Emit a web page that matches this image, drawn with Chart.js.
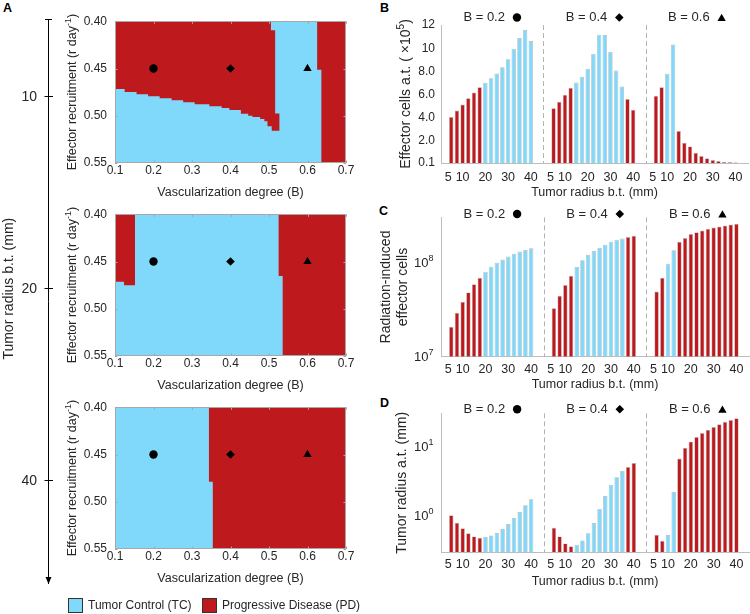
<!DOCTYPE html>
<html>
<head>
<meta charset="utf-8">
<script src="https://cdn.jsdelivr.net/npm/chart.js"></script>
<style>
body { margin: 0; width: 750px; height: 614px; position: relative; overflow: hidden; background: #fff;
       font-family: 'Liberation Sans', Arial, sans-serif; color: #262626; }
canvas { position: absolute; }
.lbl { position: absolute; font-weight: bold; font-size: 12.5px; line-height: 12px; color: #000; }
.box { position: absolute; top: 598px; width: 13px; height: 13px; border: 1px solid #333; }
.key { position: absolute; top: 598px; font-size: 12px; line-height: 15px; white-space: nowrap; }
</style>
</head>
<body>
<div class="lbl" style="left:3px;top:2px">A</div>
<div class="lbl" style="left:380px;top:1.5px">B</div>
<div class="lbl" style="left:379px;top:204.5px">C</div>
<div class="lbl" style="left:380px;top:396.5px">D</div>

<canvas id="axisA" width="60" height="614" style="left:0;top:0"></canvas>
<canvas id="map10" width="300" height="200" style="left:60px;top:0"></canvas>
<canvas id="map20" width="300" height="200" style="left:60px;top:193px"></canvas>
<canvas id="map40" width="300" height="200" style="left:60px;top:386px"></canvas>
<canvas id="chartB" width="370" height="200" style="left:380px;top:0"></canvas>
<canvas id="chartC" width="370" height="198" style="left:380px;top:195px"></canvas>
<canvas id="chartD" width="370" height="200" style="left:380px;top:390px"></canvas>

<div class="box" style="left:68px;background:#80d9fa"></div>
<div class="key" style="left:88px">Tumor Control (TC)</div>
<div class="box" style="left:202px;background:#be1a1e"></div>
<div class="key" style="left:222px">Progressive Disease (PD)</div>

<script>
// ---- données ----
const mapRadius = [10, 20, 40];                  // rayon avant traitement (mm) pour chaque carte
const mapBTicks = [0.1, 0.2, 0.3, 0.4, 0.5, 0.6, 0.7];
const mapRTicks = [0.40, 0.45, 0.50, 0.55];
const markerB = [0.2, 0.4, 0.6];
const markerR = [0.45, 0.45, 0.45];

// zones PD (progression) : sommets [B, r]
const pd10Upper = [[0.1, 0.40], [0.505, 0.40], [0.505, 0.4095], [0.516, 0.4095], [0.516, 0.4975],
  [0.527, 0.4975], [0.527, 0.5158], [0.507, 0.5158], [0.507, 0.5112], [0.496, 0.5112],
  [0.496, 0.5059], [0.488, 0.5059], [0.488, 0.5034], [0.477, 0.5034], [0.477, 0.5013],
  [0.457, 0.5013], [0.457, 0.4999], [0.446, 0.4999], [0.446, 0.4978], [0.427, 0.4978],
  [0.427, 0.4939], [0.397, 0.4939], [0.397, 0.4918], [0.377, 0.4918], [0.377, 0.4900],
  [0.345, 0.4900], [0.345, 0.4879], [0.307, 0.4879], [0.307, 0.4858], [0.277, 0.4858],
  [0.277, 0.4837], [0.247, 0.4837], [0.247, 0.4815], [0.216, 0.4815], [0.216, 0.4794],
  [0.186, 0.4794], [0.186, 0.4773], [0.156, 0.4773], [0.156, 0.4748], [0.125, 0.4748],
  [0.125, 0.4717], [0.1, 0.4717]];
const pd10Right = [[0.625, 0.40], [0.7, 0.40], [0.7, 0.55], [0.636, 0.55], [0.636, 0.4514], [0.625, 0.4514]];
const pd20Left = [[0.1, 0.40], [0.152, 0.40], [0.152, 0.4752], [0.1234, 0.4752], [0.1234, 0.4713], [0.1, 0.4713]];
const pd20Right = [[0.525, 0.40], [0.7, 0.40], [0.7, 0.55], [0.5355, 0.55], [0.5355, 0.4653], [0.525, 0.4653]];
const pd40Right = [[0.344, 0.40], [0.7, 0.40], [0.7, 0.55], [0.354, 0.55], [0.354, 0.4787], [0.344, 0.4787]];

const groupB = ['B = 0.2', 'B = 0.4', 'B = 0.6'];
const radiusBT = [5, 7.5, 10, 12.5, 15, 17.5, 20, 22.5, 25, 27.5, 30, 32.5, 35, 37.5, 40];
const radiusTicks = [5, 10, 20, 30, 40];
const outcome02 = ['PD', 'PD', 'PD', 'PD', 'PD', 'PD', 'TC', 'TC', 'TC', 'TC', 'TC', 'TC', 'TC', 'TC', 'TC'];
const outcome04 = ['PD', 'PD', 'PD', 'PD', 'TC', 'TC', 'TC', 'TC', 'TC', 'TC', 'TC', 'TC', 'TC', 'PD', 'PD'];
const outcome06 = ['PD', 'PD', 'TC', 'TC', 'PD', 'PD', 'PD', 'PD', 'PD', 'PD', 'PD', 'PD', 'PD', 'PD', 'PD'];

// B : cellules effectrices après traitement (x10^5)
const effector02 = [4.06, 4.63, 5.15, 5.69, 6.18, 6.64, 7.01, 7.41, 7.81, 8.36, 9.05, 9.94, 10.88, 11.57, 10.62];
const effector04 = [4.83, 5.38, 5.98, 6.58, 7.04, 7.53, 8.22, 9.51, 11.17, 11.14, 9.68, 8.07, 6.70, 5.61, 4.69];
const effector06 = [5.89, 6.64, 7.79, 10.31, 2.85, 1.85, 1.53, 0.99, 0.70, 0.50, 0.36, 0.27, 0.21, 0.19, 0.16];
const effectorTicks = [0.1, 2, 4, 6, 8, 10, 12];

// C : cellules effectrices induites par la radiothérapie
const radInduced02 = [2.08e7, 2.92e7, 3.82e7, 4.8e7, 5.84e7, 6.87e7, 7.96e7, 9.0e7, 9.9e7, 1.07e8, 1.15e8, 1.23e8, 1.30e8, 1.35e8, 1.41e8];
const radInduced04 = [3.27e7, 4.41e7, 5.74e7, 7.21e7, 8.92e7, 1.05e8, 1.20e8, 1.32e8, 1.43e8, 1.54e8, 1.65e8, 1.73e8, 1.79e8, 1.85e8, 1.91e8];
const radInduced06 = [4.91e7, 6.87e7, 9.68e7, 1.34e8, 1.65e8, 1.81e8, 1.99e8, 2.08e8, 2.17e8, 2.26e8, 2.34e8, 2.40e8, 2.45e8, 2.52e8, 2.56e8];
const radInducedTicks = [1e7, 1e8];

// D : rayon tumoral après traitement (mm)
const radiusAT02 = [1.0, 0.78, 0.647, 0.547, 0.494, 0.473, 0.483, 0.511, 0.553, 0.632, 0.748, 0.914, 1.12, 1.40, 1.71];
const radiusAT04 = [0.661, 0.494, 0.391, 0.354, 0.374, 0.432, 0.547, 0.773, 1.24, 1.91, 2.77, 3.57, 4.42, 5.06, 5.78];
const radiusAT06 = [0.523, 0.428, 0.517, 2.19, 6.69, 9.57, 11.8, 13.8, 15.8, 17.5, 19.3, 21.1, 22.9, 24.4, 25.9];
const radiusATTicks = [1, 10];

// ---- style ----
const RED = '#be1a1e';
const BLUE = '#80d9fa';
const TXT = '#262626';
const AXIS_GREY = '#bdbdbd';
const FONT = "'Liberation Sans', Arial, sans-serif";
const GROUP_SPAN = 45;
const markerStyles = ['circle', 'rectRot', 'triangle'];
const markerSizes = [4.2, 4.3, 4.8];

Chart.defaults.font.family = FONT;
Chart.defaults.color = TXT;
Chart.defaults.animation = false;
Chart.defaults.events = [];
Chart.defaults.plugins.legend.display = false;
Chart.defaults.plugins.tooltip.enabled = false;

// texte vertical, morceaux [texte, exposant?]
function vText(ctx, parts, x, y, size) {
    const supSize = size * 0.72;
    ctx.save();
    ctx.translate(x, y);
    ctx.rotate(-Math.PI / 2);
    ctx.fillStyle = TXT;
    ctx.textAlign = 'left';
    ctx.textBaseline = 'middle';
    let total = 0;
    const widths = parts.map(([t, s]) => {
        ctx.font = (s ? supSize : size) + 'px ' + FONT;
        const w = ctx.measureText(t).width;
        total += w;
        return w;
    });
    let cx = -total / 2;
    parts.forEach(([t, s], i) => {
        ctx.font = (s ? supSize : size) + 'px ' + FONT;
        ctx.fillText(t, cx, s ? -size * 0.36 : 0);
        cx += widths[i];
    });
    ctx.restore();
}

// libellés 10^n dessinés à gauche de l'axe
function powTicks(ctx, scale, right) {
    ctx.save();
    ctx.fillStyle = TXT;
    ctx.textBaseline = 'middle';
    ctx.textAlign = 'left';
    scale.ticks.forEach(t => {
        const py = scale.getPixelForValue(t.value);
        const exp = String(Math.round(Math.log10(t.value)));
        ctx.font = '9px ' + FONT;
        const ew = ctx.measureText(exp).width;
        ctx.font = '13px ' + FONT;
        const bw = ctx.measureText('10').width;
        ctx.fillText('10', right - ew - bw, py + 1);
        ctx.font = '9px ' + FONT;
        ctx.fillText(exp, right - ew, py - 4);
    });
    ctx.restore();
}

// ---- axe vertical du panneau A ----
const radiusAxis = {
    id: 'radiusAxis',
    afterDraw(chart) {
        const {ctx, chartArea: a, scales: {y}} = chart;
        const x0 = Math.round(a.left) + 0.5;
        ctx.save();
        ctx.strokeStyle = '#000';
        ctx.fillStyle = '#000';
        ctx.lineWidth = 1;
        ctx.beginPath();
        ctx.moveTo(x0 - 3.5, a.top + 0.5);
        ctx.lineTo(x0 + 3.5, a.top + 0.5);
        ctx.stroke();
        ctx.beginPath();
        ctx.moveTo(x0, a.bottom + 1);
        ctx.lineTo(x0 - 3, a.bottom - 6);
        ctx.lineTo(x0 + 3, a.bottom - 6);
        ctx.closePath();
        ctx.fill();
        ctx.restore();
        vText(ctx, [['Tumor radius b.t. (mm)']], 9.5, y.getPixelForValue(1), 14);
    }
};

new Chart(document.getElementById('axisA'), {
    type: 'scatter',
    data: {datasets: []},
    options: {
        responsive: false,
        layout: {padding: {top: 19, bottom: 31, left: 0, right: 7}},
        scales: {
            x: {display: false},
            y: {
                type: 'linear', min: -0.4048, max: 2.5329, reverse: true,
                afterBuildTicks: s => { s.ticks = mapRadius.map((r, i) => ({value: i})); },
                ticks: {callback: v => String(mapRadius[v]), font: {size: 14}, padding: 7.5, color: TXT},
                grid: {color: '#000', tickLength: 3.5, lineWidth: 1},
                border: {color: '#000', width: 1},
                afterFit: s => { s.width = 48; }
            }
        }
    },
    plugins: [radiusAxis]
});

// ---- cartes du panneau A ----
const mapFrame = {
    id: 'mapFrame',
    beforeDatasetsDraw(chart) {
        const {ctx, chartArea: a} = chart;
        ctx.save();
        ctx.fillStyle = BLUE;
        ctx.fillRect(a.left, a.top, a.width, a.height);
        ctx.restore();
    },
    afterDraw(chart) {
        const {ctx, chartArea: a, scales: {x, y}} = chart;
        ctx.save();
        ctx.strokeStyle = '#a8a8a8';
        ctx.lineWidth = 1;
        ctx.strokeRect(Math.round(a.left) + 0.5, Math.round(a.top) + 0.5, Math.round(a.width) - 1, Math.round(a.height) - 1);
        ctx.beginPath();
        x.ticks.forEach(t => {
            const px = Math.round(x.getPixelForValue(t.value)) + 0.5;
            ctx.moveTo(px, a.top); ctx.lineTo(px, a.top + 2.5);
            ctx.moveTo(px, a.bottom); ctx.lineTo(px, a.bottom - 2.5);
        });
        y.ticks.forEach(t => {
            const py = Math.round(y.getPixelForValue(t.value)) + 0.5;
            ctx.moveTo(a.left, py); ctx.lineTo(a.left + 2.5, py);
            ctx.moveTo(a.right, py); ctx.lineTo(a.right - 2.5, py);
        });
        ctx.stroke();
        ctx.restore();
        vText(ctx, [['Effector recruitment (r day'], ['-1', true], [')']], a.left - 42.3, (a.top + a.bottom) / 2, 12.5);
    }
};

function drawMap(id, regions) {
    const regionSets = regions.map(poly => ({
        type: 'line',
        data: poly.map(p => ({x: p[0], y: p[1]})),
        fill: 'shape',
        backgroundColor: RED,
        borderWidth: 0,
        pointRadius: 0,
        tension: 0,
        clip: false,
        order: 2
    }));
    const markers = {
        data: markerB.map((b, i) => ({x: b, y: markerR[i]})),
        pointStyle: markerStyles,
        pointRadius: markerSizes,
        backgroundColor: '#000',
        borderWidth: 0,
        order: 1
    };
    new Chart(document.getElementById(id), {
        type: 'scatter',
        data: {datasets: regionSets.concat([markers])},
        options: {
            responsive: false,
            layout: {padding: {top: 21.3, right: 14, bottom: 0, left: 0}},
            scales: {
                x: {
                    type: 'linear', min: 0.1, max: 0.7,
                    afterBuildTicks: s => { s.ticks = mapBTicks.map(v => ({value: v})); },
                    ticks: {callback: v => v.toFixed(1), font: {size: 12}, padding: 0.5, maxRotation: 0, autoSkip: false},
                    grid: {display: false, drawTicks: false},
                    border: {display: false},
                    title: {display: true, text: 'Vascularization degree (B)', font: {size: 12.5}, padding: 0},
                    afterFit: s => { s.height = 37; }
                },
                y: {
                    type: 'linear', min: 0.40, max: 0.55, reverse: true,
                    afterBuildTicks: s => { s.ticks = mapRTicks.map(v => ({value: v})); },
                    ticks: {callback: v => v.toFixed(2), font: {size: 12}, padding: 8, autoSkip: false},
                    grid: {display: false, drawTicks: false},
                    border: {display: false},
                    afterFit: s => { s.width = 55; }
                }
            }
        },
        plugins: [mapFrame]
    });
}

drawMap('map10', [pd10Upper, pd10Right]);
drawMap('map20', [pd20Left, pd20Right]);
drawMap('map40', [pd40Right]);

// ---- panneaux B, C, D ----
const groupDeco = {
    id: 'groupDeco',
    beforeDatasetsDraw(chart, args, o) {
        const {ctx, chartArea: a, scales: {x}} = chart;
        ctx.save();
        ctx.strokeStyle = '#b4b4b4';
        ctx.lineWidth = 1;
        ctx.setLineDash([5, 3]);
        [1, 2].forEach(g => {
            const px = Math.round(x.getPixelForValue(g * GROUP_SPAN + 0.5)) + 0.5;
            ctx.beginPath();
            ctx.moveTo(px, a.top);
            ctx.lineTo(px, a.bottom);
            ctx.stroke();
        });
        ctx.restore();
    },
    afterDraw(chart, args, o) {
        const {ctx, chartArea: a, scales: {x, y}} = chart;
        ctx.save();
        ctx.font = '13px ' + FONT;
        ctx.textBaseline = 'middle';
        ctx.textAlign = 'left';
        const ty = a.top - o.titleGap;
        groupB.forEach((label, g) => {
            const c = x.getPixelForValue(g * GROUP_SPAN + 23);
            const w = ctx.measureText(label).width;
            const start = c - (w + 16) / 2;
            ctx.fillStyle = TXT;
            ctx.fillText(label, start, ty);
            ctx.fillStyle = '#000';
            Chart.helpers.drawPoint(ctx, {pointStyle: markerStyles[g], radius: markerSizes[g], borderWidth: 0, rotation: 0},
                start + w + 12, ty + (markerStyles[g] === 'triangle' ? 1 : 0));
        });
        ctx.restore();
        if (o.powLabels) powTicks(ctx, y, a.left - 7.5);
        o.yTitle.forEach((t, i) => vText(ctx, t, a.left - o.yTitleX[i], (a.top + a.bottom) / 2, 14));
    }
};

function drawBars(id, series, yScale, cfg) {
    const outcomes = [outcome02, outcome04, outcome06];
    const datasets = series.map((vals, g) => ({
        label: groupB[g],
        data: radiusBT.map((r, i) => ({x: g * GROUP_SPAN + r, y: vals[i]})),
        backgroundColor: outcomes[g].map(o => o === 'PD' ? RED : BLUE),
        borderColor: 'rgba(165,165,165,0.8)',
        borderWidth: 0.7,
        grouped: false,
        barPercentage: 0.78,
        categoryPercentage: 1
    }));
    new Chart(document.getElementById(id), {
        type: 'bar',
        data: {datasets},
        options: {
            responsive: false,
            layout: {padding: {top: cfg.top, right: 1, bottom: 0, left: 0}},
            scales: {
                x: {
                    type: 'linear', min: 0.5, max: 3 * GROUP_SPAN + 0.5, offset: false,
                    afterBuildTicks: s => {
                        s.ticks = [0, 1, 2].flatMap(g => radiusTicks.map(r => ({value: g * GROUP_SPAN + r})));
                    },
                    ticks: {
                        callback: v => (v % GROUP_SPAN === 5 ? '5\u2002' : String(v % GROUP_SPAN)),
                        font: {size: 12.5}, padding: cfg.xPad, maxRotation: 0, autoSkip: false
                    },
                    grid: {display: false, drawTicks: false},
                    border: {color: AXIS_GREY},
                    title: {display: true, text: 'Tumor radius b.t. (mm)', font: {size: 12.5}, padding: {top: 0, bottom: cfg.titlePad}},
                    afterFit: s => { s.height = cfg.xHeight; }
                },
                y: Object.assign({
                    grid: {display: false, drawTicks: false},
                    border: {color: AXIS_GREY},
                    afterFit: s => { s.width = 61; }
                }, yScale)
            },
            plugins: {groupDeco: {titleGap: cfg.titleGap, yTitle: cfg.yTitle, yTitleX: cfg.yTitleX, powLabels: cfg.powLabels}}
        },
        plugins: [groupDeco]
    });
}

drawBars('chartB', [effector02, effector04, effector06], {
    type: 'linear', min: 0.1, max: 12,
    afterBuildTicks: s => { s.ticks = effectorTicks.map(v => ({value: v})); },
    ticks: {callback: v => v < 10 ? v.toFixed(1) : String(v), font: {size: 12}, padding: 6}
}, {top: 25, xPad: 7.5, titlePad: 0, xHeight: 37, titleGap: 7.5, powLabels: false,
    yTitle: [[['Effector cells a.t. ( ×10'], ['5', true], [')']]], yTitleX: [35.2]});

drawBars('chartC', [radInduced02, radInduced04, radInduced06], {
    type: 'logarithmic', min: 1e7, max: 3e8,
    afterBuildTicks: s => { s.ticks = radInducedTicks.map(v => ({value: v})); },
    ticks: {display: false}
}, {top: 22.3, xPad: 5.5, titlePad: 0.5, xHeight: 36.3, titleGap: 3.3, powLabels: true,
    yTitle: [[['Radiation-induced']], [['effector cells']]], yTitleX: [54.5, 38]});

drawBars('chartD', [radiusAT02, radiusAT04, radiusAT06], {
    type: 'logarithmic', min: 0.29, max: 30.5,
    afterBuildTicks: s => { s.ticks = radiusATTicks.map(v => ({value: v})); },
    ticks: {display: false}
}, {top: 23.3, xPad: 4.9, titlePad: 0.8, xHeight: 37.7, titleGap: 4, powLabels: true,
    yTitle: [[['Tumor radius a.t. (mm)']]], yTitleX: [39.2]});
</script>
</body>
</html>
